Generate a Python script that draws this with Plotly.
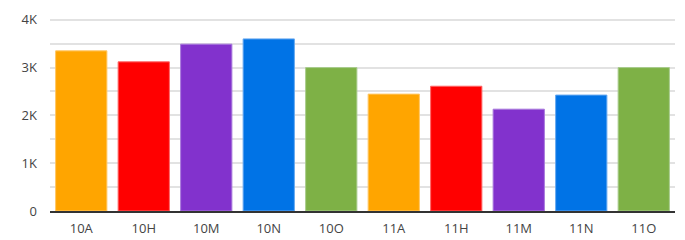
import plotly.graph_objects as go

categories = ["10A", "10H", "10M", "10N", "10O", "11A", "11H", "11M", "11N", "11O"]
values = [3350, 3120, 3490, 3600, 3000, 2445, 2610, 2130, 2425, 3000]
colors = ["#FFA500", "#FF0000", "#8232CD", "#0073E6", "#7EB146",
          "#FFA500", "#FF0000", "#8232CD", "#0073E6", "#7EB146"]
line_colors = ["#FFC766", "#FF6666", "#A878DC", "#66A8F0", "#A8CB8C",
               "#FFC766", "#FF6666", "#A878DC", "#66A8F0", "#A8CB8C"]
tick_vals = [0, 1000, 2000, 3000, 4000]
tick_text = ["0", "1K", "2K", "3K", "4K"]

fig = go.Figure(go.Bar(
    x=categories, y=values,
    marker=dict(color=colors, line=dict(color=line_colors, width=1)),
    hoverinfo="x+y",
))

fig.update_layout(
    width=685, height=240,
    margin=dict(l=50, r=10, t=15, b=29),
    paper_bgcolor="white", plot_bgcolor="white",
    bargap=0.18,
    showlegend=False,
    font=dict(family="Open Sans, sans-serif", size=13, color="#444444"),
    xaxis=dict(showgrid=False, showline=True, linecolor="#333333", linewidth=2,
               ticks="", tickfont=dict(size=13, color="#444444"),
               ticklabelstandoff=4, automargin=False),
    yaxis=dict(range=[0, 4100], tickvals=tick_vals, ticktext=tick_text,
               showgrid=True, gridcolor="#E2E2E2", gridwidth=2,
               zeroline=False, showline=False, automargin=False,
               minor=dict(tickvals=[500, 1500, 2500, 3500], showgrid=True,
                          gridcolor="#E2E2E2", gridwidth=2),
               tickfont=dict(size=13, color="#444444"), ticklabelstandoff=12),
)

fig.write_html("out.html", config={"displayModeBar": False},
               post_script="document.body.style.margin='0';")
